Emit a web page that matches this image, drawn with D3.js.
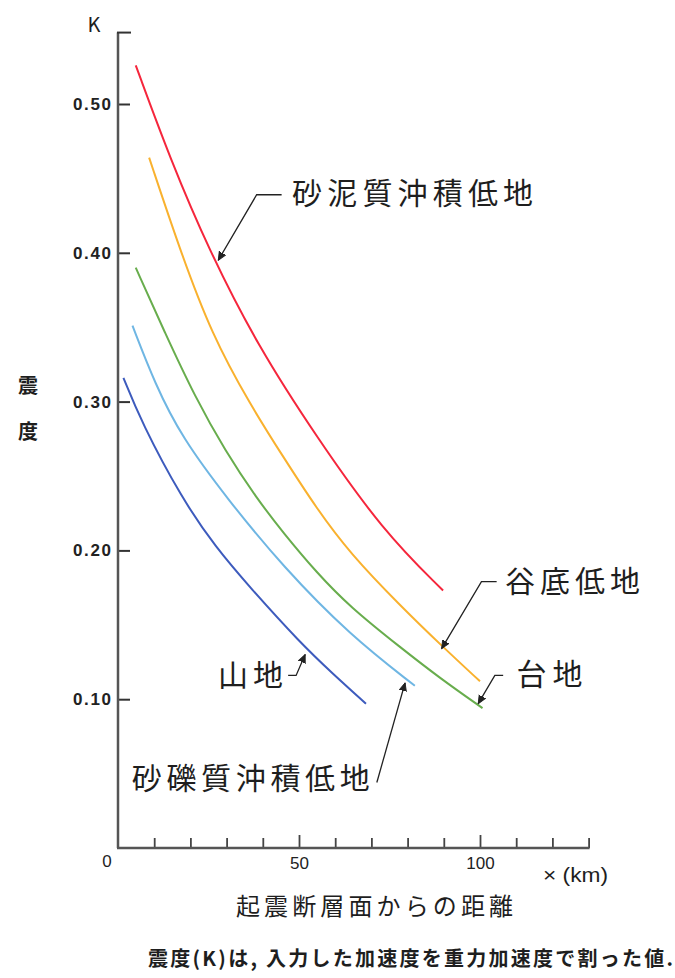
<!DOCTYPE html>
<html><head><meta charset="utf-8">
<script src="https://cdn.jsdelivr.net/npm/d3@7"></script>
<style>
html,body{margin:0;padding:0;background:#fff;}
svg{display:block;}
text{font-family:"Noto Sans CJK JP","Noto Sans",sans-serif;fill:#1e1e1e;}
.num{font-family:"Liberation Sans",Arial,sans-serif;}
</style></head>
<body>
<script>
// ---------- data ----------
const seriesNames = ["砂泥質沖積低地","谷底低地","台地","砂礫質沖積低地","山地"];
const seriesColors = ["#f5263c","#f9b12e","#68ad4d","#6fb6e3","#3d5bbd"];
const sandMudKm   = [4.9,14.6,25.1,38.7,54.9,73.2,89.8];
const sandMudK    = [0.526,0.462,0.402,0.337,0.276,0.213,0.173];
const valleyKm    = [8.6,17.1,25.9,36.5,45.6,54.9,64.1,77.9,89.8,100.0];
const valleyK     = [0.464,0.402,0.345,0.298,0.263,0.228,0.198,0.163,0.135,0.112];
const terraceKm   = [4.9,13.0,21.3,29.6,38.3,45.6,54.9,64.1,77.9,89.0,100.7];
const terraceK    = [0.390,0.346,0.303,0.267,0.235,0.212,0.185,0.162,0.135,0.114,0.094];
const gravelKm    = [4.0,10.2,17.6,30.4,45.6,64.1,82.0];
const gravelK     = [0.351,0.312,0.276,0.234,0.189,0.143,0.109];
const mountainKm  = [1.5,6.5,17.6,27.0,36.5,50.3,59.4,68.5];
const mountainK   = [0.316,0.286,0.235,0.202,0.175,0.138,0.117,0.097];
const seriesKm = [sandMudKm,valleyKm,terraceKm,gravelKm,mountainKm];
const seriesK  = [sandMudK,valleyK,terraceK,gravelK,mountainK];
const yTicks = [0.1,0.2,0.3,0.4,0.5];
const yTickLabels = ["0.10","0.20","0.30","0.40","0.50"];
const xTicks = [10,20,30,40,50,60,70,80,90,100,110,120,130];
const xMajor = [50,100];
const xMax = 130, yMax = 0.548;

// ---------- layout ----------
const W = 675, H = 978;
const svg = d3.select("body").append("svg").attr("width",W).attr("height",H);
const x = d3.scaleLinear().domain([0,xMax]).range([118,118+3.62*xMax]);
const y = d3.scaleLinear().domain([0,yMax]).range([848,848-1488*yMax]);
const axisColor = "#555";

// y axis
const yAxis = svg.append("g").attr("transform",`translate(${x(0)},0)`)
  .call(d3.axisLeft(y).tickValues(yTicks).tickFormat((d,i)=>yTickLabels[i])
        .tickSizeInner(-12).tickSizeOuter(0).tickPadding(7));
yAxis.select(".domain").remove();
yAxis.selectAll(".tick line").attr("stroke","#333").attr("stroke-width",2);
yAxis.selectAll(".tick text").attr("class","num").style("font-size","17px")
  .style("font-weight","bold").style("fill","#222").attr("textLength",38).attr("lengthAdjust","spacing");
svg.append("line").attr("x1",x(0)).attr("x2",x(0)).attr("y1",y(0)).attr("y2",y(yMax))
  .attr("stroke",axisColor).attr("stroke-width",2.5);
svg.append("line").attr("x1",x(0)-1).attr("x2",x(0)+13).attr("y1",y(yMax)).attr("y2",y(yMax))
  .attr("stroke","#333").attr("stroke-width",2);

// x axis
const xAxis = svg.append("g").attr("transform",`translate(0,${y(0)})`)
  .call(d3.axisBottom(x).tickValues(xTicks).tickFormat(d=>xMajor.includes(d)?String(d):"")
        .tickSizeInner(-10).tickSizeOuter(0).tickPadding(9));
xAxis.select(".domain").remove();
xAxis.selectAll(".tick line").attr("stroke","#444").attr("stroke-width",1.8)
  .attr("y2",d=>xMajor.includes(d)?-13:-10);
xAxis.selectAll(".tick text").attr("class","num").style("font-size","17px").style("fill","#222");
svg.append("line").attr("x1",x(0)-1).attr("x2",x(xMax)+1).attr("y1",y(0)).attr("y2",y(0))
  .attr("stroke",axisColor).attr("stroke-width",2.5);
svg.append("text").attr("class","num").attr("x",x(0)-11).attr("y",y(0)+19)
  .attr("text-anchor","middle").style("font-size","17px").text("0");
svg.append("text").attr("class","num").attr("x",543).attr("y",882)
  .style("font-size","20px").attr("textLength",65).attr("lengthAdjust","spacingAndGlyphs").text("× (km)");

// axis titles
svg.append("text").attr("x",x(0)-24).attr("y",y(yMax)-1).attr("text-anchor","middle")
  .style("font-size","20px").text("K");
svg.append("text").attr("x",28).attr("y",393).attr("text-anchor","middle")
  .style("font-size","20px").style("font-weight","bold").text("震");
svg.append("text").attr("x",28).attr("y",439).attr("text-anchor","middle")
  .style("font-size","20px").style("font-weight","bold").text("度");
svg.append("text").attr("x",236).attr("y",915).style("font-size","24px")
  .attr("textLength",277).attr("lengthAdjust","spacing").text("起震断層面からの距離");
svg.append("text").attr("x",148).attr("y",966).style("font-size","20px").style("font-weight","bold")
  .attr("textLength",525).attr("lengthAdjust","spacing").text("震度(K)は, 入力した加速度を重力加速度で割った値.");

// curves
const line = d3.line().x(d=>x(d[0])).y(d=>y(d[1])).curve(d3.curveBasis);
seriesNames.forEach((name,i)=>{
  const pts = seriesKm[i].map((k,j)=>[k,seriesK[i][j]]);
  svg.append("path").datum(pts).attr("d",line).attr("fill","none")
    .attr("stroke",seriesColors[i]).attr("stroke-width",2);
});

// annotations (in data units)
const defs = svg.append("defs");
defs.append("marker").attr("id","arr").attr("viewBox","0 0 10 10").attr("refX",9).attr("refY",5)
  .attr("markerWidth",7).attr("markerHeight",7).attr("orient","auto")
  .append("path").attr("d","M0,1 L9,5 L0,9 Z").attr("fill","#222").attr("stroke","#222").attr("stroke-width",1);
const annos = [
  {label:seriesNames[0], tx:48.1, ty:0.440, len:241, fs:30, path:[[45.2,0.439],[38.3,0.439],[27.7,0.395]]},
  {label:seriesNames[1], tx:106.9, ty:0.179, len:135, fs:30, path:[[104.6,0.179],[100.4,0.179],[89.4,0.134]]},
  {label:seriesNames[2], tx:110.1, ty:0.117, len:66, fs:30, path:[[106.4,0.116],[104.1,0.116],[99.5,0.097]]},
  {label:seriesNames[4], tx:27.6, ty:0.116, len:65, fs:30, path:[[47.0,0.116],[49.2,0.116],[51.7,0.130]]},
  {label:seriesNames[3], tx:3.8, ty:0.047, len:238, fs:30, path:[[71.5,0.044],[79.3,0.111]]}
];
const lead = d3.line().x(d=>x(d[0])).y(d=>y(d[1]));
annos.forEach(a=>{
  svg.append("text").attr("x",x(a.tx)).attr("y",y(a.ty)).attr("dy","0.36em")
    .style("font-size",a.fs+"px").attr("textLength",a.len).attr("lengthAdjust","spacing").text(a.label);
  svg.append("path").attr("d",lead(a.path)).attr("fill","none").attr("stroke","#222")
    .attr("stroke-width",1.3).attr("marker-end","url(#arr)");
});
</script>
</body></html>
